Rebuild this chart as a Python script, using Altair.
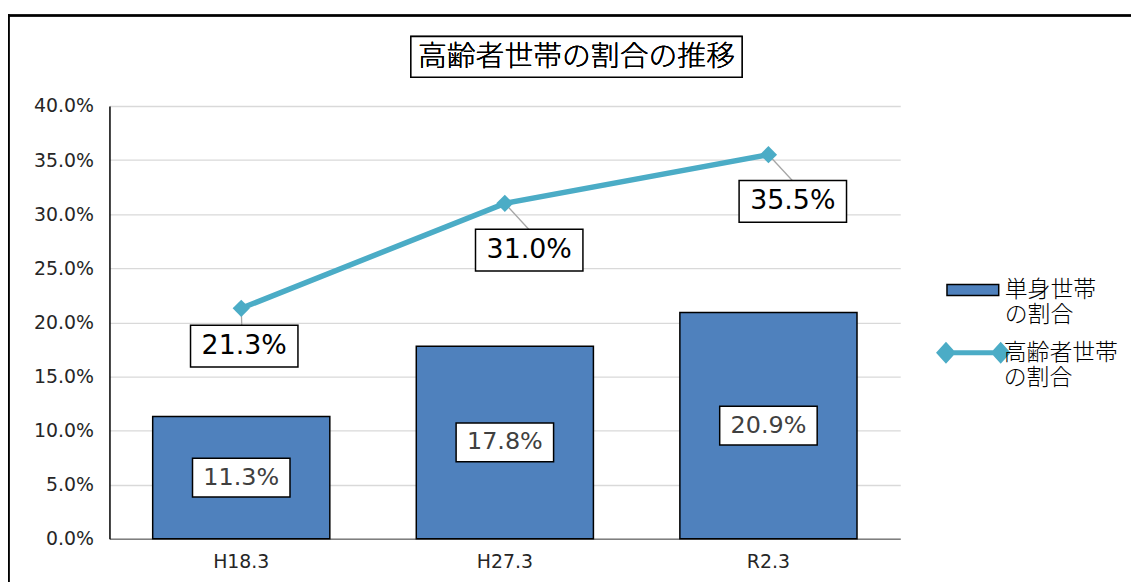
import altair as alt
import pandas as pd

# ---- data ----
categories = ["H18.3", "H27.3", "R2.3"]
single_share = [0.113, 0.178, 0.209]      # 単身世帯の割合
elderly_share = [0.213, 0.310, 0.355]     # 高齢者世帯の割合
y_ticks = [0.0, 0.05, 0.10, 0.15, 0.20, 0.25, 0.30, 0.35, 0.40]
series_names = ["単身世帯\nの割合", "高齢者世帯\nの割合"]
chart_title = "高齢者世帯の割合の推移"

df = pd.DataFrame({
    "cat": categories,
    "single": single_share,
    "elderly": elderly_share,
    "bar_series": [series_names[0]] * len(categories),
    "line_series": [series_names[1]] * len(categories),
})

W, H = 795, 435
NUM_FONT = "DejaVu Sans"
JP_FONT = "Noto Sans CJK JP"
BAR_COLOR = "#4F81BD"
LINE_COLOR = "#4BACC6"

base = alt.Chart(df)

x_enc = alt.X(
    "cat:N", sort=categories, title=None,
    scale=alt.Scale(paddingInner=0.328, paddingOuter=0.164),
    axis=alt.Axis(labelAngle=0, ticks=False, domainColor="#7F7F7F", domainWidth=1.5,
                  labelFont=NUM_FONT, labelFontSize=19, labelColor="#262626",
                  labelPadding=14, grid=False),
)
y_scale = alt.Scale(domain=[0, 0.4], nice=False, zero=True)
y_axis = alt.Axis(values=y_ticks, format=".1%", ticks=False, domainColor="#000000",
                  domainWidth=1.5, labelFont=NUM_FONT, labelFontSize=19,
                  labelColor="#262626", labelPadding=16, gridColor="#D9D9D9",
                  gridWidth=1.3, title=None)

# decorative frame and title box
frame = alt.Chart(df).mark_rule(color="black", strokeWidth=2).encode(
    x=alt.value(-102), x2=alt.value(1030), y=alt.value(-91))
frame_left = alt.Chart(df).mark_rule(color="black", strokeWidth=2).encode(
    x=alt.value(-101.5), y=alt.value(-92), y2=alt.value(480))
title_box = alt.Chart(df).mark_rect(fill="white", stroke="black", strokeWidth=1.5).encode(
    x=alt.value(303), x2=alt.value(636), y=alt.value(-70), y2=alt.value(-29))
title_text = alt.Chart(df).mark_text(text=chart_title, font=JP_FONT, fontSize=29,
                                     fontWeight=300, color="black", baseline="middle",
                                     align="center").encode(
    x=alt.value(469.5), y=alt.value(-49.5))

bars = base.mark_bar(stroke="black", strokeWidth=1.5).encode(
    x=x_enc,
    y=alt.Y("single:Q", scale=y_scale, axis=y_axis),
    color=alt.Color("bar_series:N", scale=alt.Scale(range=[BAR_COLOR]),
                    legend=alt.Legend(
                        orient="none", legendX=841, legendY=158, title=None, padding=0,
                        symbolType="M-1,-0.21H1V0.21H-1Z", symbolSize=2704,
                        symbolStrokeColor="black", symbolStrokeWidth=1.5,
                        labelFont=JP_FONT, labelFontSize=23, labelFontWeight=300,
                        labelColor="black", labelOffset=5, labelLimit=300,
                        labelExpr="split(datum.label, '\\n')")),
)

# leader lines from points to labels
first = base.transform_filter(alt.datum.cat == categories[0])
rest = base.transform_filter(alt.datum.cat != categories[0])
leader1 = first.mark_point(shape="M0,0L0.025,0.85", size=1600, filled=False,
                           stroke="#A6A6A6", strokeWidth=1.3, opacity=1).encode(
    x=alt.X("cat:N", sort=categories), y=alt.Y("elderly:Q", scale=y_scale))
leader2 = rest.mark_point(shape="M0,0L1.2,1.3", size=1600, filled=False,
                          stroke="#A6A6A6", strokeWidth=1.3, opacity=1).encode(
    x=alt.X("cat:N", sort=categories), y=alt.Y("elderly:Q", scale=y_scale))

line = base.mark_line(color=LINE_COLOR, strokeWidth=5.5).encode(
    x=alt.X("cat:N", sort=categories), y=alt.Y("elderly:Q", scale=y_scale))

diamonds = base.mark_point(shape="diamond", filled=True, size=300, opacity=1).encode(
    x=alt.X("cat:N", sort=categories), y=alt.Y("elderly:Q", scale=y_scale),
    fill=alt.Fill("line_series:N", scale=alt.Scale(range=[LINE_COLOR]),
                  legend=alt.Legend(
                      orient="none", legendX=831, legendY=214, title=None, padding=0,
                      symbolType=("M-1,0L-0.706,-0.324L-0.412,0L-0.706,0.324Z"
                                  "M0.618,0L0.912,-0.324L1.206,0L0.912,0.324Z"
                                  "M-0.706,-0.074H0.912V0.074H-0.706Z"),
                      symbolSize=4624, symbolStrokeWidth=0,
                      labelFont=JP_FONT, labelFontSize=23, labelFontWeight=300,
                      labelColor="black", labelOffset=0, labelLimit=300,
                      labelExpr="split(datum.label, '\\n')")),
)

# line labels (boxed)
box1 = first.mark_point(shape="M-2.55,0.85H2.85V2.95H-2.55Z", size=1600, filled=True,
                        fill="white", stroke="black", strokeWidth=1.5, opacity=1).encode(
    x=alt.X("cat:N", sort=categories), y=alt.Y("elderly:Q", scale=y_scale))
box2 = rest.mark_point(shape="M-1.475,1.3H3.925V3.4H-1.475Z", size=1600, filled=True,
                       fill="white", stroke="black", strokeWidth=1.5, opacity=1).encode(
    x=alt.X("cat:N", sort=categories), y=alt.Y("elderly:Q", scale=y_scale))
ltxt1 = first.mark_text(font=NUM_FONT, fontSize=27, color="black", dx=3, dy=38,
                        baseline="middle").encode(
    x=alt.X("cat:N", sort=categories), y=alt.Y("elderly:Q", scale=y_scale),
    text=alt.Text("elderly:Q", format=".1%"))
ltxt2 = rest.mark_text(font=NUM_FONT, fontSize=27, color="black", dx=24.5, dy=47,
                       baseline="middle").encode(
    x=alt.X("cat:N", sort=categories), y=alt.Y("elderly:Q", scale=y_scale),
    text=alt.Text("elderly:Q", format=".1%"))

# bar labels (boxed, centred in bar)
half = base.transform_calculate(mid="datum.single / 2")
bbox = half.mark_point(shape="M-2.45,-0.975H2.45V0.975H-2.45Z", size=1600, filled=True,
                       fill="white", stroke="black", strokeWidth=1.5, opacity=1).encode(
    x=alt.X("cat:N", sort=categories), y=alt.Y("mid:Q", scale=y_scale))
btxt = half.mark_text(font=NUM_FONT, fontSize=24, color="#404040", baseline="middle").encode(
    x=alt.X("cat:N", sort=categories), y=alt.Y("mid:Q", scale=y_scale),
    text=alt.Text("single:Q", format=".1%"))

chart = alt.layer(
    frame, frame_left, bars, leader1, leader2, line, diamonds,
    box1, box2, ltxt1, ltxt2, bbox, btxt, title_box, title_text,
).resolve_scale(color="independent", fill="independent").properties(
    width=W, height=H,
    autosize=alt.AutoSizeParams(type="none"),
    padding={"left": 102, "top": 97, "right": 232, "bottom": 42},
).configure_view(stroke=None)

chart.save("out.html", embed_options={"renderer": "svg", "actions": False})
